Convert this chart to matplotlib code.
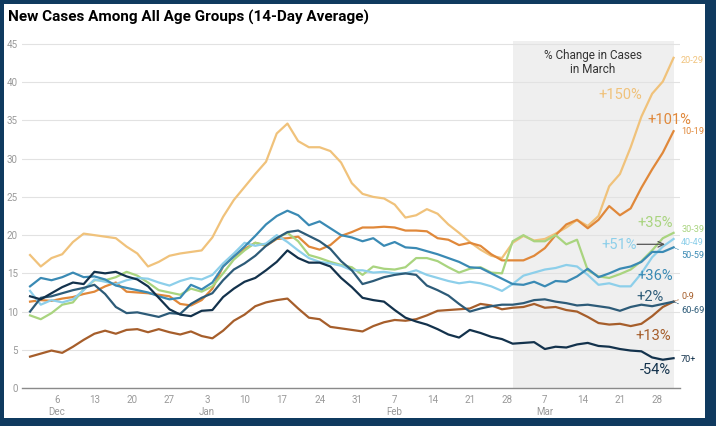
import pandas as pd
import numpy as np
import matplotlib
matplotlib.use("Agg")
import matplotlib.pyplot as plt
from matplotlib.patches import Rectangle

plt.rcParams['font.family'] = ['Roboto', 'DejaVu Sans']

# 14-day average, read every second day from Dec 1 2020 to Mar 31 2021
dates = pd.date_range('2020-12-01', '2021-03-31', freq='2D')

age_20_29 = [17.4, 15.9, 17.0, 17.5, 19.1, 20.2, 20.0, 19.8, 19.6, 18.5, 17.6,
             15.9, 16.5, 17.3, 17.6, 17.8, 18.0, 19.7, 22.4, 24.6, 26.3,
             28.0, 29.6, 33.3, 34.6, 32.3, 31.5, 31.5, 31.0, 29.5, 26.8,
             25.4, 25.0, 24.8, 24.0, 22.3, 22.6, 23.4, 22.8, 21.4, 20.3,
             19.1, 18.1, 17.3, 17.0, 19.0, 19.9, 19.3, 19.5, 20.2, 21.0,
             22.0, 21.2, 22.5, 26.4, 28.0, 31.5, 35.5, 38.5, 40.1, 43.2]
age_10_19 = [11.3, 11.5, 11.4, 11.7, 11.9, 12.3, 12.6, 13.3, 13.8, 12.6, 12.5,
             12.4, 12.2, 12.0, 11.0, 10.8, 11.5, 13.0, 15.9, 17.2, 18.2,
             19.0, 18.6, 19.5, 19.6, 19.8, 18.5, 18.1, 18.7, 19.9, 20.4,
             21.0, 21.0, 21.1, 21.0, 20.6, 20.6, 20.5, 19.6, 19.4, 18.7,
             19.0, 18.6, 17.5, 16.7, 16.7, 16.7, 17.3, 18.3, 20.0, 21.4,
             22.0, 20.9, 22.0, 23.8, 22.6, 23.5, 26.2, 28.6, 30.8, 33.6]
age_30_39 = [9.5, 9.0, 9.8, 10.9, 11.2, 12.9, 14.1, 14.1, 14.5, 15.2, 14.7,
             13.8, 12.8, 12.5, 12.2, 13.0, 12.6, 13.3, 15.0, 16.8, 18.0,
             19.0, 18.7, 19.6, 20.3, 19.2, 17.4, 17.0, 16.5, 16.1, 15.8,
             14.8, 15.9, 15.6, 15.5, 15.8, 17.0, 17.0, 16.6, 15.8, 15.1,
             15.6, 15.8, 15.1, 15.0, 19.2, 20.0, 19.2, 19.2, 20.0, 18.8,
             19.4, 15.4, 14.6, 14.4, 14.9, 15.5, 16.6, 18.0, 19.6, 20.3]
age_40_49 = [12.7, 10.9, 11.5, 11.2, 11.6, 12.8, 14.2, 13.9, 13.6, 14.1, 14.4,
             14.3, 13.8, 13.4, 14.0, 14.4, 14.2, 14.8, 16.3, 17.6, 19.0,
             18.6, 18.9, 20.0, 19.1, 18.0, 17.0, 16.5, 16.3, 16.0, 15.4,
             15.4, 15.1, 15.2, 15.0, 15.0, 15.4, 14.8, 14.4, 14.0, 13.7,
             13.9, 13.7, 13.3, 12.7, 13.6, 14.7, 15.1, 15.5, 15.7, 16.1,
             15.9, 14.8, 13.5, 13.7, 13.3, 13.3, 15.0, 17.1, 18.5, 19.5]
age_50_59 = [13.3, 14.4, 14.1, 14.5, 15.1, 14.5, 14.6, 14.2, 13.4, 13.1, 12.8,
             12.5, 12.0, 11.6, 11.8, 13.5, 12.9, 13.8, 15.9, 17.2, 18.5,
             19.9, 21.4, 22.5, 23.2, 22.6, 21.3, 21.8, 20.9, 20.0, 19.7,
             19.2, 19.6, 18.6, 19.1, 18.4, 18.3, 17.9, 17.5, 17.0, 16.5,
             15.8, 15.7, 15.0, 14.3, 13.6, 13.5, 13.9, 13.3, 14.0, 13.9,
             14.6, 15.6, 14.5, 15.0, 15.6, 15.9, 16.5, 17.8, 17.8, 18.4]
age_0_9 = [4.1, 4.5, 4.9, 4.6, 5.4, 6.3, 7.1, 7.5, 7.1, 7.6, 7.7,
           7.3, 7.7, 7.3, 7.0, 7.4, 6.8, 6.5, 7.5, 8.8, 9.6,
           10.7, 11.2, 11.5, 11.7, 10.4, 9.2, 9.0, 8.0, 7.8, 7.6,
           7.4, 8.1, 8.6, 8.9, 8.8, 9.0, 9.5, 10.1, 10.2, 10.3,
           10.4, 11.0, 10.8, 10.3, 10.5, 10.6, 11.0, 10.5, 10.6, 10.2,
           10.0, 9.3, 8.5, 8.3, 8.4, 8.1, 8.4, 9.4, 10.6, 11.3]
age_60_69 = [10.0, 11.8, 12.0, 12.4, 12.8, 13.1, 13.5, 12.3, 10.6, 9.8, 9.9,
             9.6, 9.3, 9.8, 9.7, 11.0, 11.8, 12.4, 14.1, 15.5, 16.3,
             17.3, 18.6, 19.6, 20.4, 20.6, 19.9, 19.2, 18.2, 16.6, 15.4,
             13.6, 14.0, 14.5, 14.8, 15.0, 14.8, 13.4, 12.8, 12.1, 11.0,
             10.0, 10.4, 10.7, 10.9, 10.9, 11.1, 11.5, 11.6, 11.3, 11.1,
             10.8, 10.9, 10.7, 10.5, 10.1, 10.6, 10.9, 10.7, 11.0, 11.3]
age_70 = [12.0, 11.6, 12.4, 13.2, 13.8, 13.6, 15.2, 15.0, 15.2, 14.6, 14.2,
          13.3, 11.8, 10.3, 9.6, 9.4, 10.1, 10.2, 11.9, 13.0, 13.9,
          14.4, 15.4, 16.5, 18.0, 17.0, 16.4, 16.4, 15.9, 14.4, 13.2,
          11.8, 11.5, 11.3, 10.2, 9.2, 8.7, 8.3, 7.7, 7.0, 6.6,
          7.6, 7.2, 6.7, 6.4, 5.8, 5.9, 6.0, 5.1, 5.4, 5.3,
          5.7, 5.9, 5.5, 5.4, 5.1, 4.9, 4.8, 4.0, 3.7, 3.9]

groups = ['20-29', '10-19', '30-39', '40-49', '50-59', '0-9', '60-69', '70+']
series = [age_20_29, age_10_19, age_30_39, age_40_49, age_50_59, age_0_9, age_60_69, age_70]
colors = ['#f0c27b', '#e0883a', '#a9d47f', '#8dcfea', '#3a8ab4', '#a65e2b', '#2d5b78', '#13324c']
label_y = [42.9, 33.6, 20.8, 19.1, 17.3, 12.0, 10.2, 3.7]

# March change, with the day and value where each note sits
changes = ['+150%', '+101%', '+35%', '+51%', '+36%', '+13%', '+2%', '-54%']
change_day = [110.0, 119.3, 116.5, 109.8, 116.6, 116.2, 115.6, 116.6]
change_val = [38.3, 35.0, 21.6, 18.7, 14.7, 6.85, 11.95, 2.35]

start = pd.Timestamp('2020-12-01')

def day(d):
    return start + pd.Timedelta(days=d)

fig = plt.figure(figsize=(7.16, 4.26), dpi=100, facecolor='#0f3a5f')
fig.patches.append(Rectangle((4/716, 8/426), 701/716, 414/426, transform=fig.transFigure,
                             facecolor='white', edgecolor='none', zorder=-1))

ax = fig.add_axes([22/716, 38/426, 658/716, 347/426])
ax.set_facecolor('none')

ax.axvspan(day(90), day(120), color='#efefef', lw=0, zorder=0)

for vals, c in zip(series, colors):
    ax.plot(dates, vals, color=c, lw=1.6, solid_joinstyle='round', zorder=3)

for name, vals, c, ly in zip(groups, series, colors, label_y):
    ax.annotate(name, xy=(dates[-1], vals[-1]), xytext=(day(121.4), ly),
                fontsize=6.6, color=c, ha='left', va='center', annotation_clip=False,
                arrowprops=dict(arrowstyle='-', color=c, lw=0.6, linestyle=':',
                                shrinkA=0, shrinkB=0) if abs(ly - vals[-1]) > 0.6 else None)

for txt, d, v, c in zip(changes, change_day, change_val,
                        ['#f0c27b', '#e0883a', '#a9d47f', '#8dcfea', '#3a8ab4', '#a65e2b', '#2d5b78', '#13324c']):
    ax.text(day(d), v, txt, color=c, fontsize=10.5, ha='center', va='center', zorder=5)

ax.annotate('', xy=(day(118.4), 18.8), xytext=(day(113.2), 18.8),
            arrowprops=dict(arrowstyle='->', color='#555555', lw=0.9, shrinkA=0, shrinkB=0))

ax.text(day(104.9), 42.6, '% Change in Cases\nin March', fontsize=8.5, color='#333333',
        ha='center', va='center', linespacing=1.15)

ax.set_xlim(day(-1.5), day(121.2))
ax.set_ylim(0, 45.4)
ax.set_yticks(range(0, 50, 5))
ax.yaxis.grid(True, color='#e2e2e2', lw=0.8)
ax.set_axisbelow(True)

ticks = pd.date_range('2020-12-06', '2021-03-28', freq='7D')
tick_labels = []
seen = set()
for t in ticks:
    lab = str(t.day)
    if t.month not in seen:
        seen.add(t.month)
        lab += '\n' + t.strftime('%b')
    tick_labels.append(lab)
ax.set_xticks(ticks)
ax.set_xticklabels(tick_labels, linespacing=1.2)

ax.tick_params(length=0, labelsize=7, colors='#999999')
ax.tick_params(axis='x', pad=5)
ax.tick_params(axis='y', pad=3)
for s in ['top', 'right', 'left']:
    ax.spines[s].set_visible(False)
ax.spines['bottom'].set_color('#8a8a8a')
ax.spines['bottom'].set_linewidth(1)

fig.text(8/716, 1 - 17/426, 'New Cases Among All Age Groups (14-Day Average)',
         fontsize=11, fontweight='bold', color='black', ha='left', va='center')

fig.savefig('out.png', dpi=100, facecolor=fig.get_facecolor())
